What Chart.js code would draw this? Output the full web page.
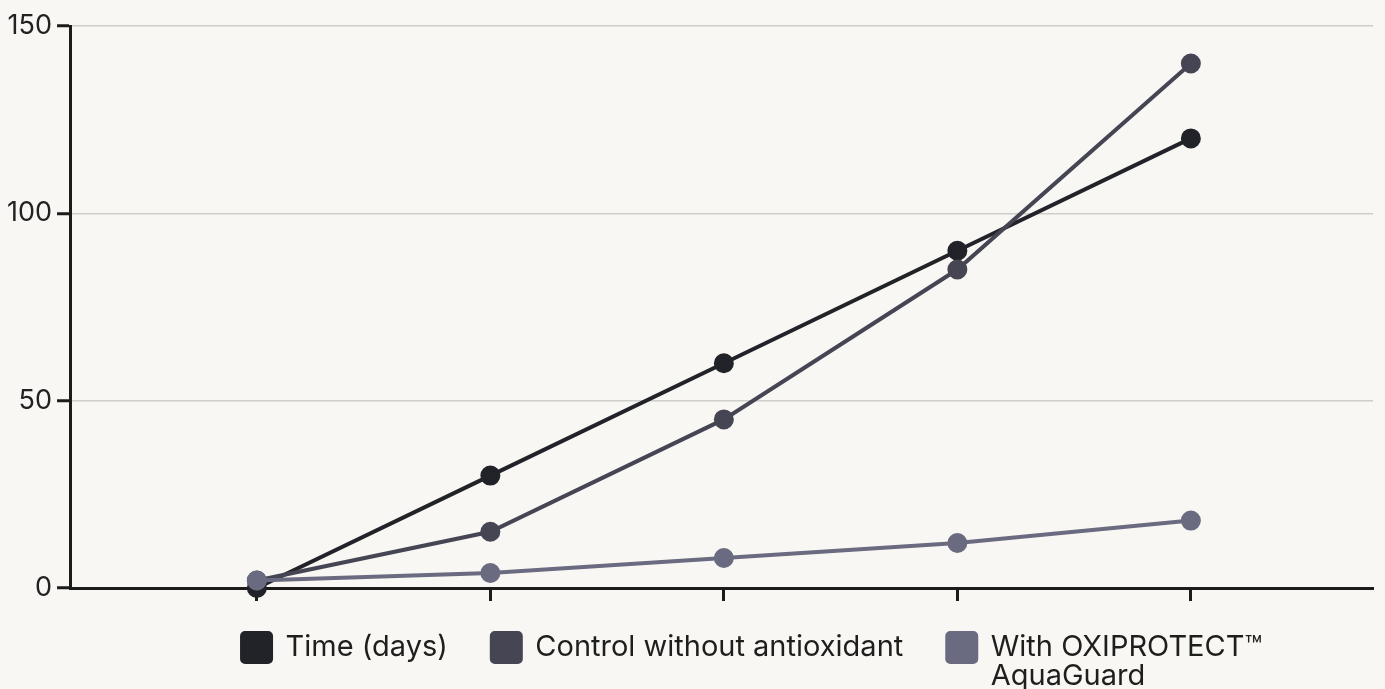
<!DOCTYPE html>
<html>
<head>
<meta charset="utf-8">
<script src="https://cdn.jsdelivr.net/npm/chart.js@4"></script>
<style>
  html, body { margin: 0; padding: 0; background: #f8f7f4; }
  #wrap { width: 1385px; height: 689px; }
</style>
</head>
<body>
<div id="wrap"><canvas id="myChart"></canvas></div>
<script>
// x positions of the five sampling points (axis has no labels)
const steps = [0, 1, 2, 3, 4];
const seriesNames = ["Time (days)", "Control without antioxidant", ["With OXIPROTECT™", "AquaGuard"]];
const timeDays = [0, 30, 60, 90, 120];
const control = [2, 15, 45, 85, 140];
const withOxiprotect = [2, 4, 8, 12, 18];
const yTicks = [0, 50, 100, 150];

const colors = ["#222229", "#454553", "#6a6a80"];
const ink = "#1b1b19";

function toPoints(values) {
  return values.map((v, i) => ({ x: steps[i], y: v }));
}

function makeDataset(label, values, color, order) {
  return {
    label: label,
    data: toPoints(values),
    borderColor: color,
    backgroundColor: color,
    pointBackgroundColor: color,
    pointBorderColor: color,
    borderWidth: 4,
    pointRadius: 8,
    pointHoverRadius: 8,
    tension: 0,
    clip: false,
    order: order
  };
}

// the legend sits a bit right of the plot's left edge, and its
// wrapped second line runs into the bottom padding
const legendOffset = {
  id: "legendOffset",
  afterLayout(chart) {
    if (chart.legend) {
      chart.legend.left += 128;
      chart.legend.right += 200;
      chart.legend.bottom += 17;
    }
  }
};

const ctx = document.getElementById("myChart").getContext("2d");
new Chart(ctx, {
  type: "line",
  data: {
    datasets: [
      makeDataset(seriesNames[0], timeDays, colors[0], 2),
      makeDataset(seriesNames[1], control, colors[1], 1),
      makeDataset(seriesNames[2], withOxiprotect, colors[2], 0)
    ]
  },
  plugins: [legendOffset],
  options: {
    responsive: true,
    maintainAspectRatio: false,
    animation: false,
    layout: { padding: { left: 2, top: 26, right: 0, bottom: 17 } },
    font: { family: "Inter" },
    scales: {
      x: {
        type: "linear",
        min: -0.8,
        max: 4.78,
        afterBuildTicks: (axis) => { axis.ticks = steps.map(v => ({ value: v })); },
        afterFit: (axis) => { axis.height = 1; },
        ticks: { display: false },
        grid: {
          drawOnChartArea: false,
          drawTicks: true,
          tickLength: 13,
          tickWidth: 3,
          tickColor: ink
        },
        border: { color: ink, width: 3 }
      },
      y: {
        min: 0,
        max: 150,
        afterBuildTicks: (axis) => { axis.ticks = yTicks.map(v => ({ value: v })); },
        ticks: {
          padding: 5,
          color: "#222",
          font: { family: "Inter", size: 27 }
        },
        grid: {
          color: "#cfcecb",
          lineWidth: 1.5,
          tickLength: 13,
          tickWidth: 3,
          tickColor: ink
        },
        border: { color: ink, width: 3 }
      }
    },
    plugins: {
      tooltip: { enabled: false },
      legend: {
        position: "bottom",
        align: "start",
        fullSize: false,
        labels: {
          boxWidth: 29,
          boxHeight: 29,
          useBorderRadius: true,
          borderRadius: 3,
          padding: 44,
          color: "#1e1e1c",
          font: { family: "Inter", size: 29, lineHeight: 1 },
          sort: (a, b) => a.datasetIndex - b.datasetIndex
        }
      }
    }
  }
});
</script>
</body>
</html>
